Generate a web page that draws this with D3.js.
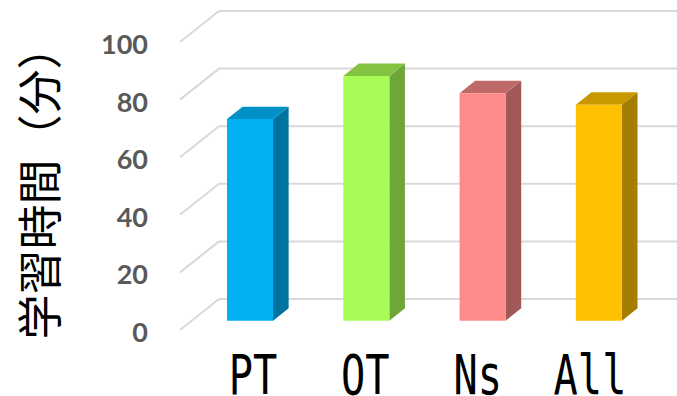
<!DOCTYPE html>
<html>
<head>
<meta charset="utf-8">
<script src="https://cdn.jsdelivr.net/npm/d3@7"></script>
<style>
  html, body { margin: 0; padding: 0; background: #fff; }
  svg { display: block; }
</style>
</head>
<body>
<svg id="chart" width="677" height="396"></svg>
<script>
// Study time by profession (minutes)
const categories = ["PT", "OT", "Ns", "All"];
const values = [70, 85, 79, 75];
const yTicks = [0, 20, 40, 60, 80, 100];
const frontColors = ["#00B0F0", "#A9FC55", "#FF8A8A", "#FFC000"];
const topColors = ["#0092C7", "#84C342", "#C06969", "#C99800"];
const sideColors = ["#00739E", "#6EA63A", "#A05858", "#A57D00"];

const svg = d3.select("#chart");
const W = 677, H = 396;

// Back wall coordinates; depth vector runs from back wall to front edge of floor
const y = d3.scaleLinear().domain([0, 100]).range([299, 11]);
const x = d3.scaleBand().domain(categories).range([219, 684.5])
  .paddingInner(0.604).paddingOuter(0.3035);
const depth = { dx: -39, dy: 31 };
const tBack = 0.3, tFront = 0.7;

// project a back-plane point (px, value) to screen at depth fraction t
function proj(px, v, t) {
  return [px + depth.dx * t, y(v) + depth.dy * t];
}

const grid = svg.append("g").attr("stroke", "#D9D9D9").attr("stroke-width", 2).attr("fill", "none");
yTicks.forEach(v => {
  const [x0, y0] = proj(x.range()[0], v, 0);
  const [x1, y1] = proj(x.range()[0], v, 1);
  grid.append("line").attr("x1", x0).attr("y1", y0).attr("x2", W + 10).attr("y2", y0);
  grid.append("line").attr("x1", x0).attr("y1", y0).attr("x2", x1).attr("y2", y1);
});

// y tick labels along the front edge of the left wall
const tickG = svg.append("g")
  .attr("font-family", "Lato, 'Open Sans', sans-serif")
  .attr("font-weight", 700)
  .attr("font-size", 27)
  .attr("fill", "#595959")
  .attr("text-anchor", "end");
yTicks.forEach(v => {
  const [, fy] = proj(x.range()[0], v, 1);
  tickG.append("text").attr("x", 148).attr("y", fy + 1.5)
    .attr("dominant-baseline", "central").text(v);
});

// 3D bars
const bars = svg.append("g");
categories.forEach((c, i) => {
  const v = values[i];
  const bx = x(c), bw = x.bandwidth();
  const ftl = proj(bx, v, tFront), ftr = proj(bx + bw, v, tFront);
  const fbl = proj(bx, 0, tFront), fbr = proj(bx + bw, 0, tFront);
  const btl = proj(bx, v, tBack), btr = proj(bx + bw, v, tBack);
  const bbr = proj(bx + bw, 0, tBack);
  const poly = pts => pts.map(p => p.join(",")).join(" ");
  const g = bars.append("g");
  g.append("polygon").attr("points", poly([ftr, btr, bbr, fbr])).attr("fill", sideColors[i]);
  g.append("polygon").attr("points", poly([ftl, ftr, btr, btl])).attr("fill", topColors[i]);
  g.append("polygon").attr("points", poly([ftl, ftr, fbr, fbl])).attr("fill", frontColors[i]);
});

// category labels under the floor
const lx = d3.scalePoint().domain(categories).range([253, 590]);
const catG = svg.append("g")
  .attr("font-family", "'DejaVu Sans Mono', monospace")
  .attr("font-size", 56)
  .attr("fill", "#000")
  .attr("text-anchor", "middle");
categories.forEach(c => {
  catG.append("text")
    .attr("transform", `translate(${lx(c)},394) scale(0.72,1)`)
    .text(c);
});

// axis title
svg.append("text")
  .attr("transform", "translate(37,182) rotate(-90)")
  .attr("font-family", "'Noto Sans CJK JP', sans-serif")
  .attr("font-size", 45)
  .attr("fill", "#000")
  .attr("text-anchor", "middle")
  .attr("dominant-baseline", "central")
  .text("学習時間（分）");
</script>
</body>
</html>
